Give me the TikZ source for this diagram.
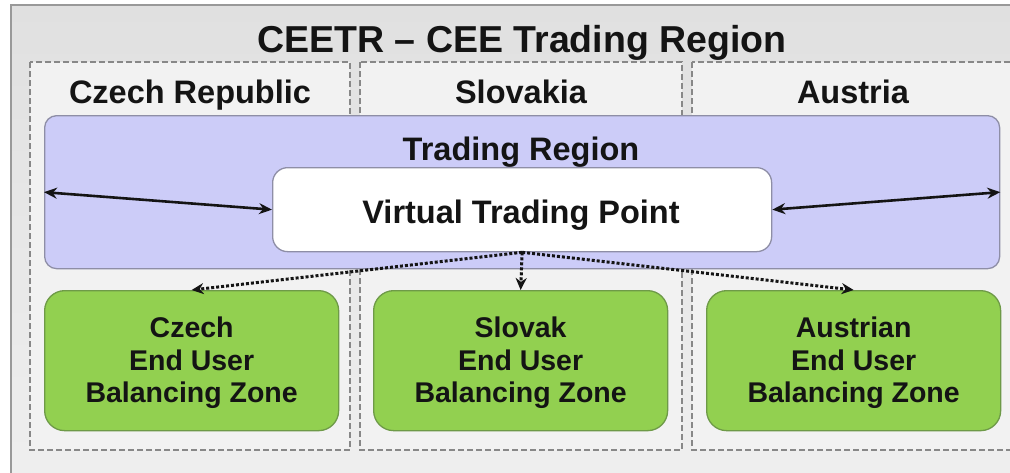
\documentclass[tikz,border=0pt]{standalone}
\usepackage{fontspec}
\setmainfont{Liberation Sans}
\usetikzlibrary{arrows.meta}
\definecolor{outerbg}{HTML}{E0E0E0}
\definecolor{outerbgb}{HTML}{EFEFEF}
\definecolor{panelbg}{HTML}{F2F2F2}
\definecolor{dashcol}{HTML}{888888}
\definecolor{bluebg}{HTML}{CCCCF8}
\definecolor{blueline}{HTML}{8E8EA6}
\definecolor{greenbg}{HTML}{92D050}
\definecolor{greenline}{HTML}{6E9A48}
\definecolor{txt}{HTML}{141414}
\begin{document}
\begin{tikzpicture}[x=1pt,y=-1pt,
  panel/.style={draw=dashcol,fill=panelbg,dash pattern=on 6pt off 3pt,line width=1.4pt},
  hdr/.style={font=\bfseries\fontsize{32.5}{36}\selectfont,text=txt,anchor=base,inner sep=0pt},
  zone/.style={draw=greenline,fill=greenbg,rounded corners=20pt,line width=1.3pt,
    minimum width=294pt,minimum height=140pt,inner sep=0pt,anchor=north west},
  zonetxt/.style={font=\bfseries\fontsize{28.5}{33}\selectfont,text=txt,align=center},
  biarrow/.style={{Stealth[length=13pt,width=11pt]}-{Stealth[length=13pt,width=11pt]},line width=2.6pt,draw=txt},
  dotarrow/.style={-{Stealth[length=12pt,width=11pt]},line width=3pt,dash pattern=on 3pt off 2pt,draw=txt}]
\useasboundingbox (0,0) rectangle (1010,472);
\fill[white] (0,0) rectangle (1010,472);
\shade[top color=outerbg,bottom color=outerbgb,draw=gray!80,line width=1.2pt] (11,5) rectangle (1030,490);
\node[font=\bfseries\fontsize{37.5}{40}\selectfont,text=txt,anchor=base,inner sep=0pt] (title) at (522,52) {CEETR – CEE Trading Region};
% country panels
\draw[panel] (30,62) rectangle (350,450);
\draw[panel] (360,62) rectangle (682,450);
\draw[panel] (692,62) rectangle (1030,450);
\node[hdr] (cz) at (190,103) {Czech Republic};
\node[hdr] (sk) at (521,103) {Slovakia};
\node[hdr] (at) at (853,103) {Austria};
% trading region
\node[draw=blueline,fill=bluebg,rounded corners=12pt,line width=1.3pt,minimum width=955pt,minimum height=153pt,inner sep=0pt,anchor=north west] (tr) at (44,115) {};
\node[hdr] (trl) at (521,160) {Trading Region};
\node[draw=blueline,fill=white,rounded corners=15pt,line width=1.3pt,minimum width=499pt,minimum height=84pt,inner sep=0pt,anchor=north west] (vtp) at (272,167) {};
\node[hdr] (vtpl) at (521,223) {Virtual Trading Point};
% balancing zones
\node[zone] (czz) at (44,290) {};
\node[zone] (skz) at (373,290) {};
\node[zone] (atz) at (706,290) {};
\node[zonetxt,anchor=base] (czt) at (czz.north |- 0,337) {Czech};
\node[zonetxt,anchor=base] (czt2) at (czz.north |- 0,370) {End User};
\node[zonetxt,anchor=base] (czt3) at (czz.north |- 0,402) {Balancing Zone};
\node[zonetxt,anchor=base] (skt) at (skz.north |- 0,337) {Slovak};
\node[zonetxt,anchor=base] (skt2) at (skz.north |- 0,370) {End User};
\node[zonetxt,anchor=base] (skt3) at (skz.north |- 0,402) {Balancing Zone};
\node[zonetxt,anchor=base] (att) at (atz.north |- 0,337) {Austrian};
\node[zonetxt,anchor=base] (att2) at (atz.north |- 0,370) {End User};
\node[zonetxt,anchor=base] (att3) at (atz.north |- 0,402) {Balancing Zone};
% connectors
\draw[biarrow] (tr.west) -- (vtp.west);
\draw[biarrow] (vtp.east) -- (tr.east);
\draw[dotarrow] (vtp.south) -- (czz.north);
\draw[dotarrow] (vtp.south) -- (skz.north);
\draw[dotarrow] (vtp.south) -- (atz.north);
\end{tikzpicture}
\end{document}
